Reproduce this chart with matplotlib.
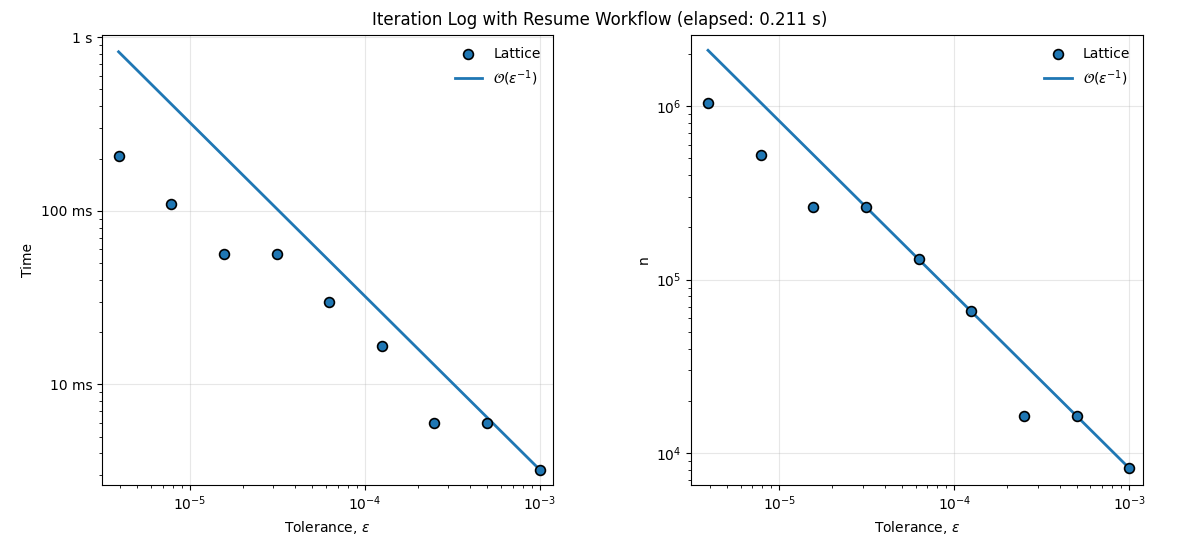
import matplotlib
matplotlib.use("Agg")
import matplotlib.pyplot as plt
from matplotlib.ticker import FuncFormatter
import numpy as np

tolerance = [1e-3, 5e-4, 2.5e-4, 1.25e-4, 6.25e-5, 3.125e-5, 1.5625e-5, 7.8125e-6, 3.90625e-6]
time_s = [0.00322, 0.00595, 0.00595, 0.0166, 0.0300, 0.0560, 0.0560, 0.110, 0.208]
n_vals = [8192, 16384, 16384, 65536, 131072, 262144, 262144, 524288, 1048576]

tol = np.array(tolerance)
ref_time = time_s[0] * tol[0] / tol
ref_n = n_vals[0] * tol[0] / tol

fig, (ax1, ax2) = plt.subplots(1, 2, figsize=(12, 5.4), dpi=100)
fig.subplots_adjust(left=0.085, right=0.9523, top=0.936, bottom=0.1024, wspace=0.306)
fig.suptitle("Iteration Log with Resume Workflow (elapsed: 0.211 s)", fontsize=12)

def time_fmt(v, pos):
    if v >= 1:
        return f"{v:g} s"
    return f"{v*1000:g} ms"

for ax, y, ref, ylabel in [(ax1, time_s, ref_time, "Time"), (ax2, n_vals, ref_n, "n")]:
    ax.scatter(tolerance, y, s=50, color="#1f77b4", edgecolors="black", linewidths=1.2,
               label="Lattice", zorder=3)
    ax.plot(tolerance, ref, color="#1f77b4", lw=2, label=r"$\mathcal{O}(\varepsilon^{-1})$")
    ax.set_xscale("log")
    ax.set_yscale("log")
    ax.grid(True, which="major", alpha=0.3)
    ax.set_xlabel(r"Tolerance, $\varepsilon$")
    ax.set_ylabel(ylabel)
    ax.legend(frameon=False, loc="upper right")
    ax.set_xlim(3.14e-6, 1.195e-3)

ax1.set_ylim(2.64e-3, 1.036)
ax2.set_ylim(6.58e3, 2.585e6)
ax1.yaxis.set_major_formatter(FuncFormatter(time_fmt))

fig.savefig("out.png", dpi=100)
